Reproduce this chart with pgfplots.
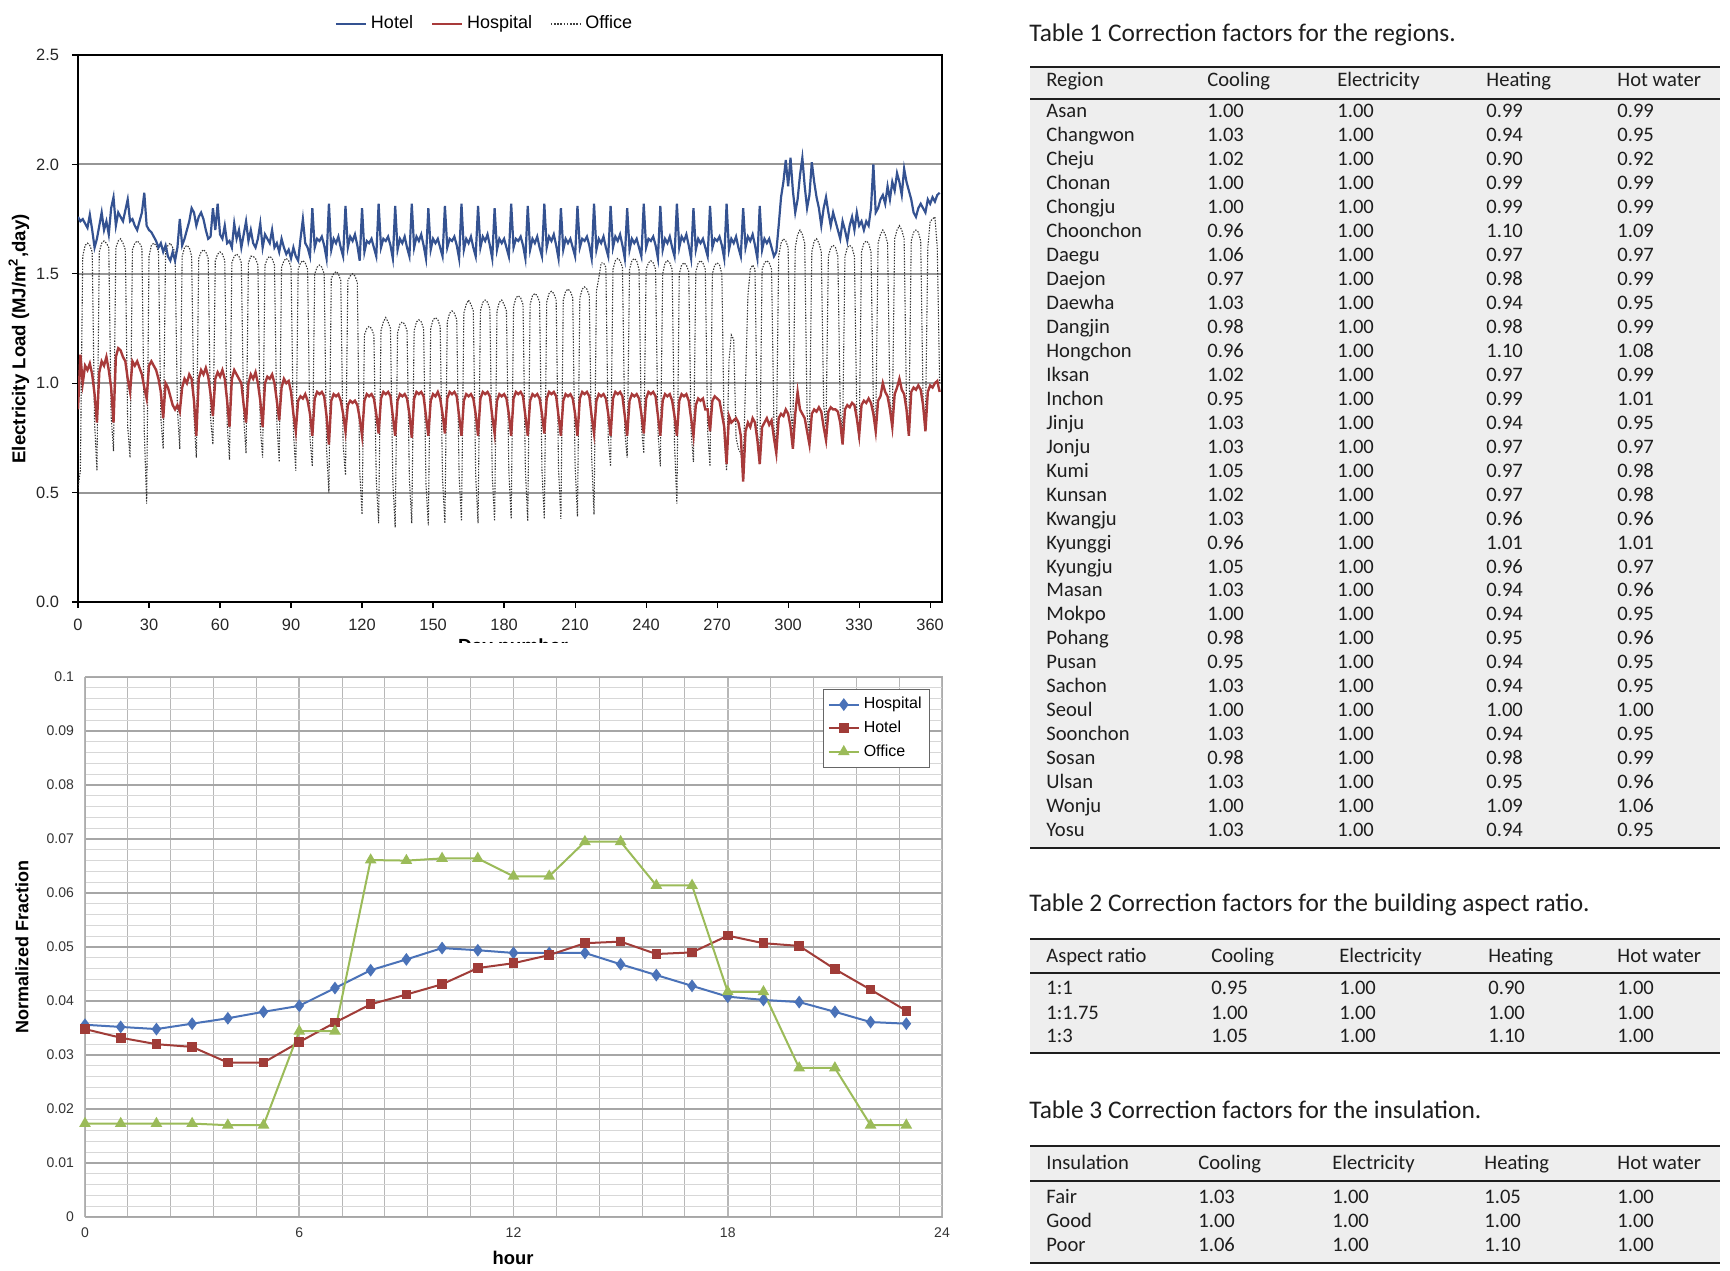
\documentclass[border=0pt]{standalone}
\usepackage{fontspec}
\setmainfont{Liberation Sans}
\newfontfamily\tabfont{Carlito}
\usepackage{pgfplots}
\pgfplotsset{compat=1.18}
\definecolor{hotelblue}{RGB}{52,82,145}
\definecolor{hospred}{RGB}{168,58,58}
\definecolor{xlblue}{RGB}{74,114,184}
\definecolor{xlred}{RGB}{160,60,56}
\definecolor{xlgreen}{RGB}{155,187,89}
\definecolor{tablebg}{RGB}{238,238,238}
\definecolor{gridmaj}{RGB}{150,150,150}
\definecolor{gridmin}{RGB}{215,215,215}
\definecolor{tabtext}{RGB}{30,30,30}
\tikzset{
  tcell/.style={anchor=base west, inner sep=0pt, text=tabtext, font=\tabfont\fontsize{10.3}{12}\selectfont},
  ttitle/.style={anchor=base west, inner sep=0pt, text=tabtext, font=\tabfont\fontsize{12.7}{15}\selectfont},
  trule/.style={line width=1.1pt, tabtext}
}
\begin{document}
\begin{tikzpicture}
\useasboundingbox (0,0) rectangle (865pt,635pt);
% ================= TOP CHART =================
\begin{axis}[
  at={(39pt,334pt)}, anchor=south west,
  width=432pt, height=273.5pt, scale only axis,
  xmin=0, xmax=365, ymin=0, ymax=2.5,
  xtick={0,30,60,90,120,150,180,210,240,270,300,330,360},
  ytick={0,0.5,1,1.5,2,2.5},
  /pgf/number format/assume math mode=true,
  yticklabel style={/pgf/number format/fixed, /pgf/number format/fixed zerofill, /pgf/number format/precision=1, xshift=-3pt},
  xticklabel style={yshift=-2pt},
  tick label style={font=\fontsize{8.2}{10}\selectfont, text=black!85},
  ymajorgrids, major grid style={gridmaj, line width=1pt},
  axis line style={black, line width=1.3pt},
  tick style={black, line width=0.6pt}, tick align=outside, major tick length=3pt,
  tick pos=left,
  xlabel={Day number}, xlabel style={font=\bfseries\fontsize{9.5}{11}\selectfont, at={(axis description cs:0.5035,-0.084)}, anchor=center},
  ylabel={Electricity Load (MJ/m\textsuperscript{2},day)},
  every axis y label/.style={at={(axis description cs:-0.0685,0.481)}, rotate=90, anchor=center, font=\bfseries\fontsize{9.3}{11}\selectfont},
  legend columns=3,
  legend style={at={(axis description cs:0.4716,1.0567)}, anchor=center, draw=none, fill=none, font=\fontsize{9}{11}\selectfont, /tikz/every even column/.append style={column sep=7pt}},
  legend image code/.code={\draw[#1] (0pt,0pt) -- (15pt,0pt);},
]
\addlegendimage{hotelblue, line width=1.1pt}\addlegendentry{Hotel}
\addlegendimage{hospred, line width=1.1pt}\addlegendentry{Hospital}
\addlegendimage{black!75, line width=0.6pt, dash pattern=on 0.8pt off 0.8pt}\addlegendentry{Office}
% Office
\addplot[forget plot, black!80, line width=0.55pt, dash pattern=on 0.7pt off 0.7pt] table[row sep=\\, header=false, x expr=\coordindex, y index=0] {
0.52\\0.60\\1.58\\1.63\\1.64\\1.63\\1.60\\
0.82\\0.60\\1.60\\1.64\\1.65\\1.64\\1.62\\
0.85\\0.69\\1.62\\1.65\\1.66\\1.64\\1.61\\
0.80\\0.66\\1.61\\1.64\\1.65\\1.64\\1.62\\
0.78\\0.45\\1.58\\1.63\\1.64\\1.63\\1.60\\
0.84\\0.70\\1.60\\1.63\\1.64\\1.62\\1.60\\
0.88\\0.70\\1.58\\1.62\\1.63\\1.62\\1.58\\
0.85\\0.66\\1.57\\1.60\\1.61\\1.60\\1.57\\
0.84\\0.72\\1.56\\1.59\\1.60\\1.59\\1.56\\
0.82\\0.65\\1.55\\1.58\\1.59\\1.58\\1.55\\
0.84\\0.68\\1.55\\1.58\\1.58\\1.57\\1.54\\
0.80\\0.66\\1.54\\1.57\\1.58\\1.57\\1.54\\
0.82\\0.64\\1.53\\1.56\\1.57\\1.56\\1.53\\
0.78\\0.60\\1.52\\1.55\\1.56\\1.55\\1.52\\
0.75\\0.62\\1.50\\1.53\\1.54\\1.53\\1.50\\
0.70\\0.50\\1.48\\1.50\\1.51\\1.50\\1.47\\
0.72\\0.58\\1.47\\1.49\\1.50\\1.49\\1.46\\
0.60\\0.40\\1.22\\1.25\\1.26\\1.25\\1.22\\
0.56\\0.36\\1.24\\1.28\\1.30\\1.28\\1.25\\
0.55\\0.34\\1.23\\1.27\\1.28\\1.27\\1.24\\
0.56\\0.36\\1.24\\1.28\\1.29\\1.28\\1.25\\
0.54\\0.35\\1.25\\1.29\\1.30\\1.29\\1.26\\
0.56\\0.36\\1.28\\1.32\\1.33\\1.32\\1.29\\
0.58\\0.37\\1.32\\1.36\\1.38\\1.36\\1.33\\
0.58\\0.36\\1.33\\1.37\\1.38\\1.37\\1.34\\
0.58\\0.37\\1.33\\1.37\\1.38\\1.36\\1.33\\
0.60\\0.38\\1.35\\1.39\\1.40\\1.39\\1.36\\
0.60\\0.37\\1.36\\1.40\\1.41\\1.40\\1.37\\
0.60\\0.38\\1.37\\1.41\\1.42\\1.41\\1.38\\
0.61\\0.38\\1.38\\1.42\\1.43\\1.42\\1.39\\
0.62\\0.39\\1.39\\1.43\\1.44\\1.43\\1.40\\
0.66\\0.40\\1.42\\1.48\\1.55\\1.55\\1.53\\
0.75\\0.62\\1.52\\1.56\\1.57\\1.56\\1.53\\
0.78\\0.66\\1.52\\1.56\\1.57\\1.56\\1.52\\
0.80\\0.68\\1.52\\1.55\\1.56\\1.55\\1.52\\
0.78\\0.62\\1.50\\1.55\\1.56\\1.55\\1.52\\
0.72\\0.45\\1.50\\1.54\\1.55\\1.54\\1.51\\
0.78\\0.64\\1.51\\1.55\\1.56\\1.55\\1.52\\
0.78\\0.62\\1.50\\1.54\\1.55\\1.54\\1.50\\
0.75\\0.60\\1.10\\1.22\\1.20\\0.75\\0.70\\
0.68\\0.62\\1.00\\1.40\\1.52\\1.54\\1.52\\
0.78\\0.64\\1.52\\1.55\\1.56\\1.55\\1.52\\
0.80\\0.70\\1.58\\1.64\\1.66\\1.65\\1.62\\
0.88\\0.78\\1.62\\1.68\\1.70\\1.68\\1.64\\
0.86\\0.76\\1.60\\1.65\\1.66\\1.64\\1.60\\
0.90\\0.80\\1.58\\1.62\\1.63\\1.62\\1.58\\
0.88\\0.76\\1.58\\1.62\\1.63\\1.62\\1.58\\
0.86\\0.74\\1.60\\1.64\\1.65\\1.64\\1.60\\
0.90\\0.80\\1.64\\1.68\\1.70\\1.68\\1.64\\
0.92\\0.82\\1.66\\1.70\\1.72\\1.70\\1.66\\
0.90\\0.78\\1.65\\1.69\\1.70\\1.69\\1.65\\
0.92\\0.80\\1.62\\1.74\\1.75\\1.76\\1.62\\
1.00\\
};
% Hospital
\addplot[forget plot, hospred, line width=1.2pt] table[row sep=\\, header=false, x expr=\coordindex, y index=0] {
0.88\\1.13\\1.00\\1.08\\1.06\\1.09\\1.04\\
0.95\\0.82\\1.05\\1.10\\1.08\\1.12\\1.06\\
0.98\\0.82\\1.12\\1.16\\1.15\\1.12\\1.10\\
1.02\\0.96\\1.10\\1.08\\1.10\\1.07\\1.04\\
0.98\\0.93\\1.08\\1.10\\1.08\\1.06\\1.02\\
0.96\\0.84\\1.00\\0.98\\0.94\\0.90\\0.88\\
0.90\\0.87\\0.98\\1.02\\1.00\\1.04\\1.02\\
0.92\\0.76\\1.02\\1.06\\1.04\\1.07\\1.03\\
0.95\\0.85\\1.02\\1.05\\1.03\\1.06\\1.02\\
0.92\\0.80\\1.02\\1.06\\1.04\\1.02\\1.00\\
0.90\\0.82\\1.00\\1.04\\1.02\\1.05\\1.00\\
0.92\\0.80\\1.00\\1.03\\1.02\\1.04\\1.00\\
0.92\\0.83\\0.98\\1.02\\1.00\\1.01\\0.96\\
0.86\\0.78\\0.92\\0.94\\0.93\\0.95\\0.92\\
0.86\\0.76\\0.93\\0.96\\0.95\\0.96\\0.94\\
0.85\\0.72\\0.92\\0.95\\0.94\\0.95\\0.92\\
0.86\\0.78\\0.90\\0.92\\0.91\\0.92\\0.90\\
0.84\\0.76\\0.92\\0.95\\0.94\\0.95\\0.93\\
0.86\\0.77\\0.93\\0.96\\0.95\\0.96\\0.94\\
0.85\\0.76\\0.92\\0.95\\0.94\\0.95\\0.93\\
0.86\\0.75\\0.93\\0.96\\0.95\\0.96\\0.94\\
0.85\\0.76\\0.92\\0.95\\0.94\\0.96\\0.93\\
0.86\\0.77\\0.93\\0.96\\0.95\\0.96\\0.94\\
0.85\\0.76\\0.92\\0.95\\0.94\\0.95\\0.93\\
0.86\\0.76\\0.93\\0.96\\0.95\\0.96\\0.94\\
0.85\\0.77\\0.92\\0.95\\0.94\\0.95\\0.93\\
0.86\\0.76\\0.93\\0.96\\0.95\\0.96\\0.94\\
0.85\\0.76\\0.92\\0.95\\0.94\\0.95\\0.93\\
0.86\\0.77\\0.93\\0.96\\0.95\\0.96\\0.94\\
0.85\\0.76\\0.92\\0.95\\0.94\\0.95\\0.93\\
0.86\\0.76\\0.93\\0.96\\0.95\\0.96\\0.94\\
0.85\\0.77\\0.92\\0.95\\0.94\\0.95\\0.93\\
0.86\\0.76\\0.93\\0.96\\0.95\\0.96\\0.94\\
0.85\\0.76\\0.92\\0.95\\0.94\\0.95\\0.93\\
0.86\\0.77\\0.93\\0.96\\0.95\\0.96\\0.94\\
0.85\\0.76\\0.92\\0.95\\0.94\\0.95\\0.92\\
0.85\\0.76\\0.92\\0.95\\0.94\\0.95\\0.92\\
0.84\\0.76\\0.90\\0.93\\0.92\\0.93\\0.88\\
0.88\\0.78\\0.92\\0.94\\0.93\\0.92\\0.86\\
0.80\\0.63\\0.85\\0.82\\0.83\\0.84\\0.82\\
0.76\\0.55\\0.78\\0.82\\0.80\\0.84\\0.82\\
0.74\\0.63\\0.80\\0.82\\0.84\\0.81\\0.83\\
0.75\\0.68\\0.84\\0.86\\0.85\\0.88\\0.86\\
0.80\\0.70\\0.86\\0.96\\0.88\\0.86\\0.84\\
0.78\\0.72\\0.86\\0.88\\0.87\\0.89\\0.87\\
0.80\\0.74\\0.87\\0.89\\0.88\\0.88\\0.87\\
0.82\\0.72\\0.88\\0.90\\0.89\\0.91\\0.90\\
0.84\\0.76\\0.90\\0.92\\0.91\\0.93\\0.91\\
0.86\\0.78\\0.92\\0.94\\1.00\\0.96\\0.94\\
0.88\\0.80\\0.95\\0.98\\1.02\\0.97\\0.95\\
0.88\\0.76\\0.96\\0.98\\0.97\\0.99\\0.97\\
0.90\\0.78\\0.96\\0.99\\0.98\\1.00\\1.01\\
0.96\\
};
% Hotel
\addplot[forget plot, hotelblue, line width=1.1pt] table[row sep=\\, header=false, x expr=\coordindex, y index=0] {
1.76\\1.74\\1.75\\1.73\\1.71\\1.77\\1.70\\
1.62\\1.66\\1.72\\1.78\\1.70\\1.74\\1.68\\
1.80\\1.85\\1.72\\1.78\\1.76\\1.74\\1.79\\
1.84\\1.74\\1.75\\1.72\\1.70\\1.74\\1.78\\
1.87\\1.72\\1.70\\1.69\\1.67\\1.65\\1.62\\
1.64\\1.60\\1.63\\1.58\\1.56\\1.60\\1.56\\
1.62\\1.75\\1.63\\1.66\\1.70\\1.74\\1.80\\
1.78\\1.72\\1.76\\1.78\\1.75\\1.70\\1.66\\
1.67\\1.80\\1.70\\1.82\\1.68\\1.66\\1.72\\
1.64\\1.65\\1.62\\1.73\\1.66\\1.70\\1.62\\
1.68\\1.74\\1.65\\1.70\\1.64\\1.62\\1.66\\
1.73\\1.62\\1.68\\1.66\\1.64\\1.70\\1.62\\
1.64\\1.60\\1.66\\1.62\\1.59\\1.61\\1.57\\
1.62\\1.58\\1.56\\1.66\\1.75\\1.64\\1.62\\
1.58\\1.80\\1.62\\1.66\\1.65\\1.67\\1.63\\
1.57\\1.82\\1.61\\1.66\\1.64\\1.67\\1.62\\
1.58\\1.81\\1.62\\1.67\\1.65\\1.68\\1.63\\
1.56\\1.80\\1.60\\1.65\\1.64\\1.66\\1.62\\
1.58\\1.82\\1.62\\1.66\\1.65\\1.67\\1.63\\
1.57\\1.81\\1.61\\1.66\\1.64\\1.67\\1.62\\
1.58\\1.82\\1.62\\1.67\\1.65\\1.68\\1.63\\
1.57\\1.80\\1.61\\1.66\\1.64\\1.66\\1.62\\
1.58\\1.81\\1.62\\1.66\\1.65\\1.67\\1.63\\
1.57\\1.82\\1.61\\1.66\\1.64\\1.67\\1.62\\
1.58\\1.81\\1.62\\1.67\\1.65\\1.68\\1.63\\
1.57\\1.80\\1.61\\1.66\\1.64\\1.66\\1.62\\
1.58\\1.82\\1.62\\1.66\\1.65\\1.67\\1.63\\
1.57\\1.81\\1.61\\1.66\\1.64\\1.67\\1.62\\
1.58\\1.82\\1.62\\1.67\\1.65\\1.68\\1.63\\
1.57\\1.80\\1.61\\1.66\\1.64\\1.66\\1.62\\
1.58\\1.81\\1.62\\1.66\\1.65\\1.67\\1.63\\
1.57\\1.82\\1.61\\1.66\\1.64\\1.67\\1.62\\
1.58\\1.81\\1.62\\1.67\\1.65\\1.68\\1.63\\
1.57\\1.80\\1.61\\1.66\\1.64\\1.66\\1.62\\
1.58\\1.82\\1.62\\1.66\\1.65\\1.67\\1.63\\
1.57\\1.81\\1.61\\1.66\\1.64\\1.67\\1.62\\
1.58\\1.82\\1.62\\1.67\\1.65\\1.68\\1.63\\
1.57\\1.80\\1.61\\1.66\\1.64\\1.66\\1.62\\
1.58\\1.81\\1.62\\1.66\\1.65\\1.67\\1.63\\
1.57\\1.82\\1.61\\1.66\\1.64\\1.67\\1.62\\
1.58\\1.80\\1.62\\1.67\\1.65\\1.68\\1.63\\
1.57\\1.81\\1.61\\1.66\\1.64\\1.66\\1.62\\
1.58\\1.60\\1.72\\1.85\\1.92\\2.02\\1.90\\
2.03\\1.88\\1.78\\1.84\\1.95\\2.03\\1.90\\
1.80\\1.86\\2.01\\1.92\\1.85\\1.80\\1.72\\
1.80\\1.85\\1.78\\1.72\\1.78\\1.74\\1.70\\
1.66\\1.74\\1.70\\1.65\\1.72\\1.76\\1.70\\
1.78\\1.72\\1.74\\1.70\\1.74\\1.72\\1.80\\
2.00\\1.78\\1.80\\1.84\\1.86\\1.82\\1.90\\
1.84\\1.92\\1.88\\1.96\\1.92\\1.86\\1.98\\
1.92\\1.88\\1.84\\1.78\\1.76\\1.80\\1.82\\
1.80\\1.78\\1.84\\1.82\\1.85\\1.83\\1.86\\
1.87\\
};
\end{axis}
\fill[white] (0,0) rectangle (505pt,313.5pt);
% ================= BOTTOM CHART =================
\begin{axis}[
  at={(42.5pt,26.5pt)}, anchor=south west,
  width=428.5pt, height=270pt, scale only axis,
  xmin=0, xmax=24, ymin=0, ymax=0.1,
  xtick={0,6,12,18,24}, minor x tick num=4,
  ytick={0,0.01,0.02,0.03,0.04,0.05,0.06,0.07,0.08,0.09,0.1},
  yticklabels={0,0.01,0.02,0.03,0.04,0.05,0.06,0.07,0.08,0.09,0.1},
  minor y tick num=4,
  /pgf/number format/assume math mode=true,
  grid=both,
  ymajorgrids, 
  y grid style={},
  major grid style={gridmaj!85, line width=0.8pt},
  minor grid style={gridmin, line width=0.5pt},
  x grid style={gridmin!85!black},
  axis line style={gridmin!80!black, line width=0.5pt},
  major tick length=0pt, minor tick length=0pt,
  tick label style={font=\fontsize{7}{9}\selectfont, text=black!80},
  yticklabel style={xshift=-2pt},
  xticklabel style={yshift=-2pt},
  xlabel={hour}, xlabel style={font=\bfseries\fontsize{9.2}{11}\selectfont, at={(axis description cs:0.4994,-0.076)}, anchor=center},
  ylabel={Normalized Fraction},
  every axis y label/.style={at={(axis description cs:-0.0735,0.5)}, rotate=90, anchor=center, font=\bfseries\fontsize{9}{11}\selectfont},
  legend style={at={(axis description cs:0.986,0.978)}, anchor=north east, draw=black!60, fill=white, font=\fontsize{8}{9.5}\selectfont, inner sep=2pt, row sep=0.5pt},
  legend image code/.code={\draw[mark repeat=2, mark phase=2, #1] plot coordinates {(0pt,0pt) (7.5pt,0pt) (15pt,0pt)};},
  legend cell align=left,
]
\addplot[xlblue, line width=1pt, mark=diamond*, mark size=2.4pt, mark options={fill=xlblue}] coordinates {
(0,0.0356) (1,0.0352) (2,0.0348) (3,0.0358) (4,0.0368) (5,0.0380) (6,0.0391) (7,0.0424)
(8,0.0457) (9,0.0477) (10,0.0498) (11,0.0494) (12,0.0489) (13,0.0489) (14,0.0489) (15,0.0468)
(16,0.0448) (17,0.0428) (18,0.0408) (19,0.0402) (20,0.0398) (21,0.0380) (22,0.0361) (23,0.0358)};
\addlegendentry{Hospital}
\addplot[xlred, line width=1pt, mark=square*, mark size=1.9pt, mark options={fill=xlred}] coordinates {
(0,0.0348) (1,0.0332) (2,0.0320) (3,0.0315) (4,0.0286) (5,0.0286) (6,0.0324) (7,0.0360)
(8,0.0394) (9,0.0412) (10,0.0431) (11,0.0461) (12,0.0470) (13,0.0485) (14,0.0507) (15,0.0510)
(16,0.0487) (17,0.0490) (18,0.0521) (19,0.0507) (20,0.0502) (21,0.0459) (22,0.0421) (23,0.0382)};
\addlegendentry{Hotel}
\addplot[xlgreen, line width=1pt, mark=triangle*, mark size=2.4pt, mark options={fill=xlgreen}] coordinates {
(0,0.0173) (1,0.0173) (2,0.0173) (3,0.0173) (4,0.0170) (5,0.0170) (6,0.0344) (7,0.0344)
(8,0.0661) (9,0.0660) (10,0.0664) (11,0.0664) (12,0.0631) (13,0.0631) (14,0.0695) (15,0.0695)
(16,0.0614) (17,0.0614) (18,0.0417) (19,0.0417) (20,0.0276) (21,0.0276) (22,0.0170) (23,0.0170)};
\addlegendentry{Office}
\end{axis}
% ================= TABLE 1 =================
\fill[tablebg] (515pt,601.5pt) rectangle (860pt,211pt);
\node[ttitle] at (514.5pt,614.4pt) {Table 1 Correction factors for the regions.};
\draw[trule] (515pt,601.5pt) -- (860pt,601.5pt);
\draw[trule] (515pt,585.5pt) -- (860pt,585.5pt);
\draw[trule] (515pt,211pt) -- (860pt,211pt);
\node[tcell] at (523pt,591.7pt) {Region};
\node[tcell] at (603.5pt,591.7pt) {Cooling};
\node[tcell] at (668.5pt,591.7pt) {Electricity};
\node[tcell] at (743pt,591.7pt) {Heating};
\node[tcell] at (808.5pt,591.7pt) {Hot water};
\foreach \n/\a/\b/\c/\d [count=\i from 0] in {
Asan/1.00/1.00/0.99/0.99, Changwon/1.03/1.00/0.94/0.95, Cheju/1.02/1.00/0.90/0.92,
Chonan/1.00/1.00/0.99/0.99, Chongju/1.00/1.00/0.99/0.99, Choonchon/0.96/1.00/1.10/1.09,
Daegu/1.06/1.00/0.97/0.97, Daejon/0.97/1.00/0.98/0.99, Daewha/1.03/1.00/0.94/0.95,
Dangjin/0.98/1.00/0.98/0.99, Hongchon/0.96/1.00/1.10/1.08, Iksan/1.02/1.00/0.97/0.99,
Inchon/0.95/1.00/0.99/1.01, Jinju/1.03/1.00/0.94/0.95, Jonju/1.03/1.00/0.97/0.97,
Kumi/1.05/1.00/0.97/0.98, Kunsan/1.02/1.00/0.97/0.98, Kwangju/1.03/1.00/0.96/0.96,
Kyunggi/0.96/1.00/1.01/1.01, Kyungju/1.05/1.00/0.96/0.97, Masan/1.03/1.00/0.94/0.96,
Mokpo/1.00/1.00/0.94/0.95, Pohang/0.98/1.00/0.95/0.96, Pusan/0.95/1.00/0.94/0.95,
Sachon/1.03/1.00/0.94/0.95, Seoul/1.00/1.00/1.00/1.00, Soonchon/1.03/1.00/0.94/0.95,
Sosan/0.98/1.00/0.98/0.99, Ulsan/1.03/1.00/0.95/0.96, Wonju/1.00/1.00/1.09/1.06,
Yosu/1.03/1.00/0.94/0.95}{
  \node[tcell] at (523pt,{576.2pt-\i*11.985pt}) {\n};
  \node[tcell] at (603.5pt,{576.2pt-\i*11.985pt}) {\a};
  \node[tcell] at (668.5pt,{576.2pt-\i*11.985pt}) {\b};
  \node[tcell] at (743pt,{576.2pt-\i*11.985pt}) {\c};
  \node[tcell] at (808.5pt,{576.2pt-\i*11.985pt}) {\d};
}
% ================= TABLE 2 =================
\fill[tablebg] (515pt,165.5pt) rectangle (860pt,108.5pt);
\node[ttitle] at (514.5pt,179.4pt) {Table 2 Correction factors for the building aspect ratio.};
\draw[trule] (515pt,165.5pt) -- (860pt,165.5pt);
\draw[trule] (515pt,148.5pt) -- (860pt,148.5pt);
\draw[trule] (515pt,108.5pt) -- (860pt,108.5pt);
\node[tcell] at (523pt,153.7pt) {Aspect ratio};
\node[tcell] at (605.5pt,153.7pt) {Cooling};
\node[tcell] at (669.5pt,153.7pt) {Electricity};
\node[tcell] at (744pt,153.7pt) {Heating};
\node[tcell] at (808.5pt,153.7pt) {Hot water};
\foreach \n/\a/\b/\c/\d/\y in {1:1/0.95/1.00/0.90/1.00/137.7, 1:1.75/1.00/1.00/1.00/1.00/125.2, 1:3/1.05/1.00/1.10/1.00/113.7}{
  \node[tcell] at (523pt,\y pt) {\n};
  \node[tcell] at (605.5pt,\y pt) {\a};
  \node[tcell] at (669.5pt,\y pt) {\b};
  \node[tcell] at (744pt,\y pt) {\c};
  \node[tcell] at (808.5pt,\y pt) {\d};
}
% ================= TABLE 3 =================
\fill[tablebg] (515pt,62pt) rectangle (860pt,3.5pt);
\node[ttitle] at (514.5pt,75.9pt) {Table 3 Correction factors for the insulation.};
\draw[trule] (515pt,62pt) -- (860pt,62pt);
\draw[trule] (515pt,44.5pt) -- (860pt,44.5pt);
\draw[trule] (515pt,3.5pt) -- (860pt,3.5pt);
\node[tcell] at (523pt,50.2pt) {Insulation};
\node[tcell] at (599pt,50.2pt) {Cooling};
\node[tcell] at (666pt,50.2pt) {Electricity};
\node[tcell] at (742pt,50.2pt) {Heating};
\node[tcell] at (808.5pt,50.2pt) {Hot water};
\foreach \n/\a/\b/\c/\d/\y in {Fair/1.03/1.00/1.05/1.00/33.2, Good/1.00/1.00/1.00/1.00/21.2, Poor/1.06/1.00/1.10/1.00/9.2}{
  \node[tcell] at (523pt,\y pt) {\n};
  \node[tcell] at (599pt,\y pt) {\a};
  \node[tcell] at (666pt,\y pt) {\b};
  \node[tcell] at (742pt,\y pt) {\c};
  \node[tcell] at (808.5pt,\y pt) {\d};
}
\end{tikzpicture}
\end{document}
